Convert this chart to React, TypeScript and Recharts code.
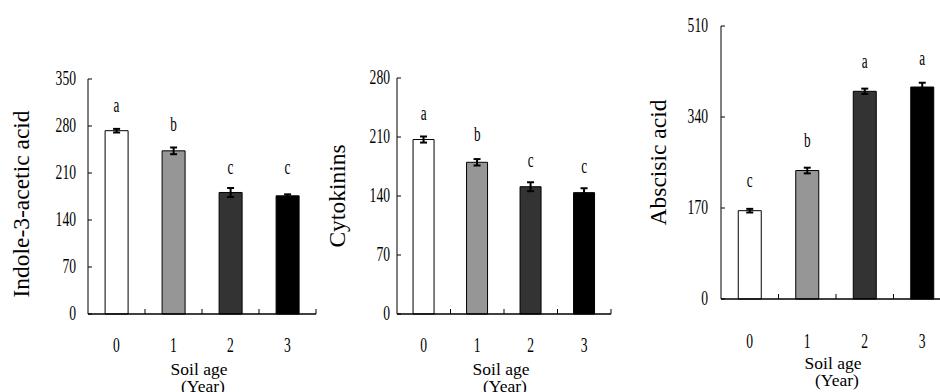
import React from 'react';
import { ComposedChart, Bar, Line, XAxis, YAxis, ErrorBar, LabelList, Label, Cell } from 'recharts';

// ---- data ----
const years = ['0', '1', '2', '3'];
const barColors = ['#ffffff', '#969696', '#333333', '#000000'];

const iaaValues = [273, 243, 181, 176];
const iaaErrors = [2.7, 5, 6.7, 2.2];
const iaaLetters = ['a', 'b', 'c', 'c'];
const iaaLetterPos = [307, 279, 215, 215];
const iaaTicks = [0, 70, 140, 210, 280, 350];

const ckValues = [207, 180, 151, 144];
const ckErrors = [3.6, 3.8, 5.3, 5.2];
const ckLetters = ['a', 'b', 'c', 'c'];
const ckLetterPos = [236, 211, 180, 173];
const ckTicks = [0, 70, 140, 210, 280];

const abaValues = [165, 240, 388, 396];
const abaErrors = [3.4, 5.3, 5, 8];
const abaLetters = ['c', 'b', 'a', 'a'];
const abaLetterPos = [218, 292, 439, 445];
const abaTicks = [0, 170, 340, 510];

const FONT = '"Liberation Serif", "Times New Roman", Times, serif';

const build = (values: number[], errs: number[], letters: string[], pos: number[]) =>
  years.map((y, i) => ({ year: y, value: values[i], err: errs[i], letter: letters[i], letterPos: pos[i] }));

const CondText = ({ x, y, text, size, anchor, sx = 0.7 }: any) => (
  <text
    transform={`translate(${x},${y}) scale(${sx},1)`}
    fontSize={size}
    fontFamily={FONT}
    textAnchor={anchor}
    dominantBaseline="central"
    fill="#000"
  >
    {text}
  </text>
);

const YTick = (p: any) => <CondText x={p.x} y={p.y} text={p.payload.value} size={20} anchor="end" sx={0.68} />;

const XTick = (p: any) => {
  const axisY = p.y - p.gap;
  const sepX = p.x + p.band / 2;
  return (
    <g>
      <line x1={sepX} x2={sepX} y1={axisY} y2={axisY - 5} stroke="#000" strokeWidth={1} />
      <CondText x={p.x} y={p.y} text={p.payload.value} size={20} anchor="middle" sx={0.68} />
    </g>
  );
};

const LetterLabel = (props: any) => {
  const vb = props.viewBox && props.viewBox.x != null ? props.viewBox : props;
  const x = vb.x + (vb.width || 0) / 2;
  const y = vb.y + (vb.height || 0) / 2 - 2;
  return <CondText x={x} y={y} text={props.value} size={20} anchor="middle" sx={0.66} />;
};

type PanelProps = {
  left: number;
  width: number;
  height: number;
  top: number;
  right: number;
  yAxisW: number;
  xAxisH: number;
  values: number[];
  errs: number[];
  letters: string[];
  pos: number[];
  ticks: number[];
  title: string;
  titleX: number;
  titleDy: number;
  yGap: number;
  xGap: number;
  soilDy: number;
};

const Panel = (c: PanelProps) => {
  const data = build(c.values, c.errs, c.letters, c.pos);
  const band = (c.width - c.yAxisW - c.right) / years.length;
  const max = c.ticks[c.ticks.length - 1];
  return (
    <div style={{ position: 'absolute', left: c.left, top: 0 }}>
      <ComposedChart
        width={c.width}
        height={c.height}
        data={data}
        margin={{ top: c.top, right: c.right, bottom: 0, left: 0 }}
        barCategoryGap="30%"
      >
        <XAxis
          dataKey="year"
          interval={0}
          height={c.xAxisH}
          tickLine={false}
          tickSize={0}
          tickMargin={c.xGap}
          axisLine={{ stroke: '#000', strokeWidth: 1.5 }}
          tick={<XTick gap={c.xGap} band={band} />}
        >
          <Label
            content={(lp: any) => {
              const vb = lp.viewBox;
              const cx = vb.x + vb.width / 2;
              return (
                <text
                  y={vb.y + c.soilDy}
                  fontSize={17.5}
                  fontFamily={FONT}
                  textAnchor="middle"
                  dominantBaseline="central"
                  fill="#000"
                >
                  <tspan x={cx - 3}>Soil age</tspan>
                  <tspan x={cx + 1} dy={17.5}>
                    (Year)
                  </tspan>
                </text>
              );
            }}
          />
        </XAxis>
        <YAxis
          width={c.yAxisW}
          domain={[0, max]}
          ticks={c.ticks}
          interval={0}
          tickSize={-4}
          tickMargin={c.yGap + 4}
          axisLine={{ stroke: '#000', strokeWidth: 1 }}
          tickLine={{ stroke: '#000', strokeWidth: 1 }}
          tick={<YTick />}
        >
          <Label
            content={(lp: any) => {
              const vb = lp.viewBox;
              const x = vb.x + c.titleX;
              const y = vb.y + vb.height / 2 + c.titleDy;
              return (
                <text
                  transform={`translate(${x},${y}) rotate(-90)`}
                  fontSize={23.5}
                  fontFamily={FONT}
                  textAnchor="middle"
                  dominantBaseline="central"
                  fill="#000"
                >
                  {c.title}
                </text>
              );
            }}
          />
        </YAxis>
        <Bar dataKey="value" stroke="#000" strokeWidth={1} isAnimationActive={false}>
          {data.map((d, i) => (
            <Cell key={d.year} fill={barColors[i]} />
          ))}
          <ErrorBar dataKey="err" width={3.5} strokeWidth={2} stroke="#000" />
        </Bar>
        <Line
          dataKey="letterPos"
          stroke="none"
          dot={false}
          activeDot={false}
          legendType="none"
          isAnimationActive={false}
        >
          <LabelList dataKey="letter" content={LetterLabel} />
        </Line>
      </ComposedChart>
    </div>
  );
}

export default function App() {
  return (
    <div
      style={{
        position: 'absolute',
        left: 0,
        top: 0,
        width: 940,
        height: 392,
        overflow: 'hidden',
        background: '#fff',
      }}
    >
      <Panel
        left={0}
        width={330}
        height={392}
        top={79}
        right={14}
        yAxisW={88}
        xAxisH={78}
        values={iaaValues}
        errs={iaaErrors}
        letters={iaaLetters}
        pos={iaaLetterPos}
        ticks={iaaTicks}
        title="Indole-3-acetic acid"
        titleX={21}
        titleDy={7.5}
        yGap={12}
        xGap={32}
        soilDy={54.5}
      />
      <Panel
        left={310}
        width={315}
        height={392}
        top={78}
        right={14}
        yAxisW={87}
        xAxisH={78}
        values={ckValues}
        errs={ckErrors}
        letters={ckLetters}
        pos={ckLetterPos}
        ticks={ckTicks}
        title="Cytokinins"
        titleX={26.5}
        titleDy={0}
        yGap={7}
        xGap={32}
        soilDy={54.5}
      />
      <Panel
        left={625}
        width={340}
        height={392}
        top={26}
        right={14}
        yAxisW={96}
        xAxisH={93}
        values={abaValues}
        errs={abaErrors}
        letters={abaLetters}
        pos={abaLetterPos}
        ticks={abaTicks}
        title="Abscisic acid"
        titleX={32.5}
        titleDy={0}
        yGap={13}
        xGap={43}
        soilDy={63.5}
      />
    </div>
  );
}
